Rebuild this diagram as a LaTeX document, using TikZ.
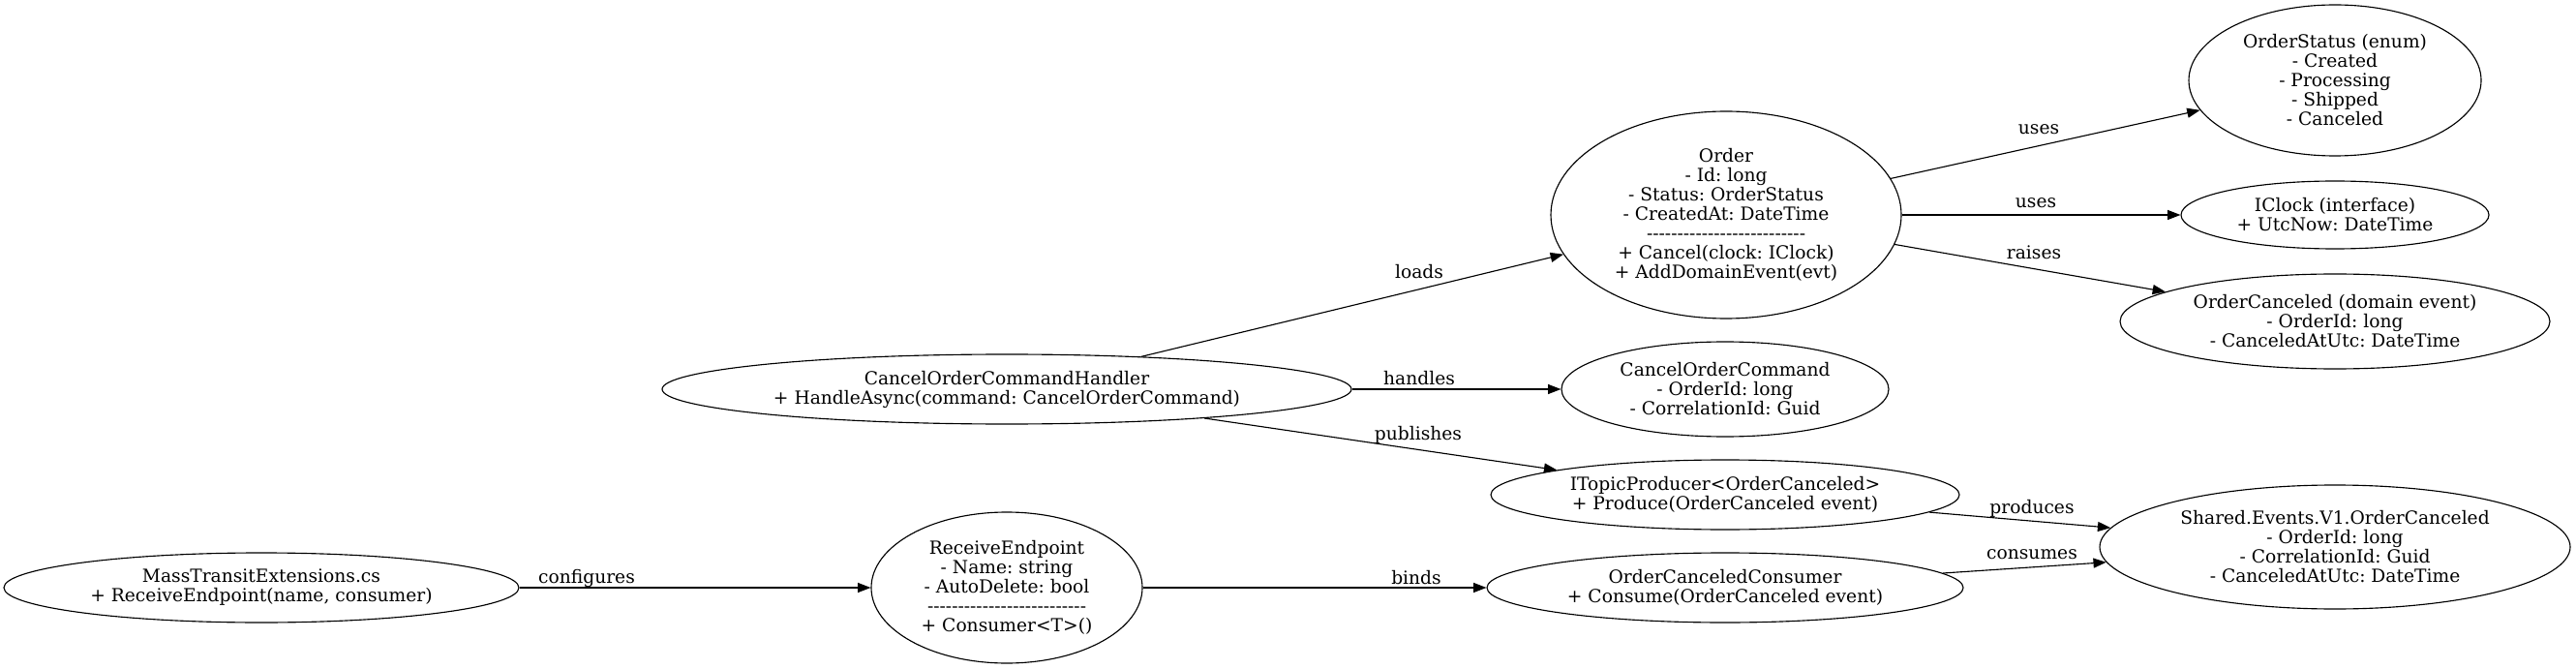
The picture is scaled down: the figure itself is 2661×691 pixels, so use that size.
\documentclass[tikz,border=0pt]{standalone}
\usepackage{fontspec}
\setmainfont{DejaVu Serif}[Ligatures=TeXOff]
\usetikzlibrary{shapes.geometric,arrows.meta}
\frenchspacing
\begin{document}
\begin{tikzpicture}[x=0.75pt,y=-0.75pt,
  box/.style={draw,ellipse,inner sep=0pt,align=center,line width=0.85pt,font=\fontsize{14}{15}\selectfont},
  lbl/.style={inner sep=0pt,font=\fontsize{14}{15}\selectfont},
  conn/.style={-{Triangle[length=10pt,width=7.5pt]},line width=0.85pt}]
\useasboundingbox (0,0) rectangle (2661,691);
\node[box,minimum width=399pt,minimum height=54pt] (mte) at (270,607) {MassTransitExtensions.cs\\+ ReceiveEndpoint(name, consumer)};
\node[box,minimum width=210pt,minimum height=117pt] (rep) at (1040,607) {ReceiveEndpoint\\- Name: string\\- AutoDelete: bool\\--------------------------\\+ Consumer<T>()};
\node[box,minimum width=369pt,minimum height=54pt] (occ) at (1782,607) {OrderCanceledConsumer\\+ Consume(OrderCanceled event)};
\node[box,minimum width=363pt,minimum height=54pt] (itp) at (1782,511) {ITopicProducer<OrderCanceled>\\+ Produce(OrderCanceled event)};
\node[box,minimum width=364.5pt,minimum height=96pt] (seo) at (2412,565) {Shared.Events.V1.OrderCanceled\\- OrderId: long\\- CorrelationId: Guid\\- CanceledAtUtc: DateTime};
\node[box,minimum width=534pt,minimum height=54pt] (coh) at (1040,402) {CancelOrderCommandHandler\\+ HandleAsync(command: CancelOrderCommand)};
\node[box,minimum width=253.5pt,minimum height=73.5pt] (coc) at (1782,402) {CancelOrderCommand\\- OrderId: long\\- CorrelationId: Guid};
\node[box,minimum width=271.5pt,minimum height=160.5pt] (ord) at (1783,222) {Order\\- Id: long\\- Status: OrderStatus\\- CreatedAt: DateTime\\--------------------------\\+ Cancel(clock: IClock)\\+ AddDomainEvent(evt)};
\node[box,minimum width=226.5pt,minimum height=117pt] (ost) at (2412,83) {OrderStatus (enum)\\- Created\\- Processing\\- Shipped\\- Canceled};
\node[box,minimum width=238.5pt,minimum height=52.5pt] (icl) at (2412,222) {IClock (interface)\\+ UtcNow: DateTime};
\node[box,minimum width=333pt,minimum height=73.5pt] (ocd) at (2412,332) {OrderCanceled (domain event)\\- OrderId: long\\- CanceledAtUtc: DateTime};

\draw[conn] (mte) -- (rep);
\draw[conn] (rep) -- (occ);
\draw[conn] (coh) -- (ord);
\draw[conn] (coh) -- (coc);
\draw[conn] (coh) -- (itp);
\draw[conn] (ord) -- (ost);
\draw[conn] (ord) -- (icl);
\draw[conn] (ord) -- (ocd);
\draw[conn] (itp) -- (seo);
\draw[conn] (occ) -- (seo);

\node[lbl] (l1) at (606,597) {configures};
\node[lbl] (l2) at (1463,597) {binds};
\node[lbl] (l3) at (1466,281) {loads};
\node[lbl] (l4) at (1466,391) {handles};
\node[lbl] (l5) at (1465,449) {publishes};
\node[lbl] (l6) at (2106,134) {uses};
\node[lbl] (l7) at (2103,210) {uses};
\node[lbl] (l8) at (2101,261) {raises};
\node[lbl] (l9) at (2099,525) {produces};
\node[lbl] (l10) at (2099,573) {consumes};
\end{tikzpicture}
\end{document}
